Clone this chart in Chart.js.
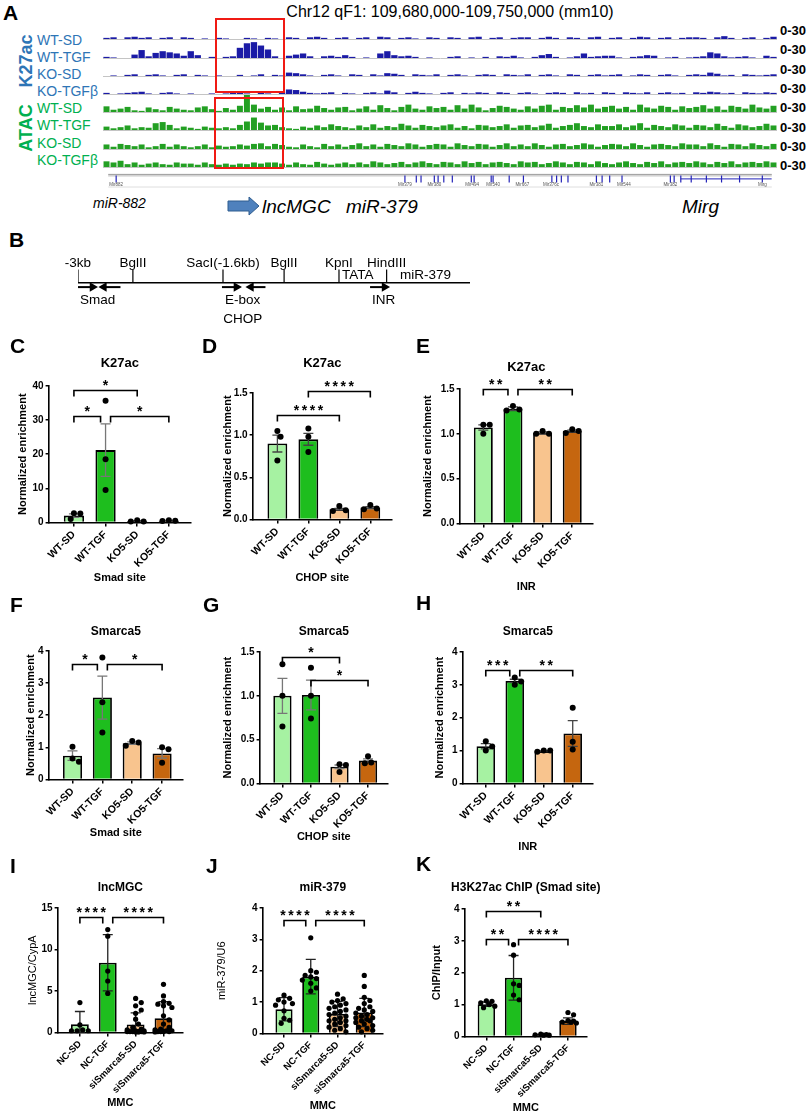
<!DOCTYPE html>
<html>
<head>
<meta charset="utf-8">
<title>Smarca5 / lncMGC figure</title>
<script src="https://cdn.jsdelivr.net/npm/chart.js@4.4.1/dist/chart.umd.min.js"></script>
<style>
  body { margin: 0; width: 809px; height: 1116px; position: relative; overflow: hidden; background: #fff;
         font-family: "Liberation Sans", Arial, sans-serif; color: #000; }
  canvas { position: absolute; }
  .t { position: absolute; white-space: nowrap; line-height: 1; transform: translate(-50%, -50%); }
  .tl { position: absolute; white-space: nowrap; line-height: 1; transform: translate(0, -50%); }
  .letter { position: absolute; font-weight: bold; font-size: 21px; line-height: 1; }
  .box { position: absolute; border: 2.5px solid #f01a14; box-sizing: border-box; }
</style>
</head>
<body>
<script>
// ---------- panel A: coverage tracks (96 bins over chr12:109,680,000-109,750,000) ----------
const k27WtSd  = [2,3,0,3,4,2,3,0,2,3,0,3, 2,0,1,0,2,1,0,0,2,1,0,2, 1,0,3,2,0,3,4,2,0,2,3,0, 2,3,0,4,3,0,2,3,1,0,3,2, 0,3,2,0,3,4,0,2,3,0,2,3, 3,0,2,4,2,0,3,2,0,3,4,0, 2,3,0,2,4,3,0,2,3,0,2,3, 3,2,0,3,5,2,0,2,3,0,2,4];
const k27WtTgf = [2,1,0,0,6,14,3,9,12,10,8,4, 12,5,0,2,0,2,3,18,26,28,22,15, 3,0,4,6,8,3,0,3,4,2,5,2, 0,1,0,8,12,5,3,4,2,0,1,0, 0,2,3,0,1,0,2,0,3,2,4,1, 0,2,5,7,2,0,1,3,8,2,3,4, 4,1,0,2,3,5,4,0,1,2,0,1, 2,3,10,8,3,1,2,3,1,0,4,2];
const k27KoSd  = [0,1,0,2,3,0,2,3,1,0,2,3, 0,2,1,0,1,0,0,2,0,1,3,0, 2,1,6,5,3,1,0,2,3,1,0,3, 2,0,3,1,5,4,2,0,3,2,1,3, 0,2,3,1,0,2,3,2,0,3,2,1, 3,0,2,3,1,0,3,2,0,2,3,1, 2,3,0,1,3,2,0,2,3,1,0,2, 3,2,6,4,1,2,0,3,2,1,2,3];
const k27KoTgf = [2,0,1,2,3,4,1,0,2,3,1,0, 1,0,0,1,0,1,2,3,1,0,2,1, 0,3,8,7,4,2,1,2,3,0,2,1, 0,2,3,1,6,3,0,2,4,2,1,0, 2,3,0,2,1,3,2,0,3,2,0,2, 3,1,0,2,3,2,0,3,1,2,0,3, 2,0,3,2,1,3,0,2,3,1,2,0, 3,2,4,3,1,2,0,3,2,1,3,2];
const atacWtSd  = [10,4,6,9,3,2,8,5,3,9,6,4, 3,8,10,5,2,7,4,11,30,13,6,9, 4,8,3,10,5,6,11,7,4,8,9,3, 6,10,4,12,7,3,9,13,6,4,10,7, 9,4,12,6,13,8,3,7,11,9,6,4, 10,6,11,13,4,9,7,12,8,13,6,9, 11,6,9,4,13,8,6,11,9,4,10,7, 9,12,6,10,4,11,9,6,13,8,6,11];
const atacWtTgf = [6,3,5,8,3,5,4,12,14,9,3,6, 4,2,6,4,3,5,3,9,15,22,13,8, 9,5,3,2,6,4,8,5,10,7,5,3, 8,5,10,4,7,5,11,8,4,9,7,5, 8,10,4,7,3,9,8,5,7,10,4,8, 9,5,8,11,4,7,9,12,7,5,10,7, 7,10,5,8,12,4,9,7,5,10,8,4, 9,8,5,11,7,4,10,8,5,7,11,8];
const atacKoSd  = [8,4,9,7,5,8,3,5,9,4,8,5, 3,5,8,3,6,4,5,8,6,9,10,5, 9,7,4,3,8,5,3,9,5,8,4,7, 10,5,8,4,9,7,5,10,8,4,7,9, 8,4,10,7,5,9,8,4,7,10,5,8, 5,10,7,4,8,9,5,7,10,8,4,7, 9,8,5,10,7,4,8,9,7,5,10,8, 8,5,10,7,4,9,8,5,10,7,5,9];
const atacKoTgf = [10,8,11,5,8,4,6,8,5,4,8,6, 6,4,8,5,4,6,4,6,5,8,6,8, 8,6,4,8,5,4,9,6,4,6,8,5, 8,5,10,8,5,7,9,5,8,10,7,5, 9,8,5,10,7,9,5,8,9,7,5,10, 8,9,5,7,10,8,5,9,8,5,10,7, 5,8,10,7,5,9,7,10,5,8,9,7, 10,8,5,9,7,10,5,8,9,7,10,8];
const trackNames = ['WT-SD', 'WT-TGF', 'KO-SD', 'KO-TGFβ', 'WT-SD', 'WT-TGF', 'KO-SD', 'KO-TGFβ'];
const trackRange = '0-30';

// gene annotation (kb from 109,680,000)
const featureKb = [0.84, 31.3, 32.5, 33.0, 34.4, 34.8, 35.4, 36.3, 38.3, 38.6, 40.4, 40.6, 42.3, 43.8, 46.8, 47.3, 47.8, 48.5,
                   51.5, 52.1, 52.9, 54.2, 59.3, 59.7, 60.4, 61.5, 63.1, 64.7, 66.6, 69.0];
const featureNames = ['Mir882', 'Mir379', 'Mir380', 'Mir494', 'Mir540', 'Mir667', 'Mir376c', 'Mir381', 'Mir544', 'Mir382', 'Mirg'];
const featureNameKb = [0.84, 31.3, 34.4, 38.4, 40.6, 43.7, 46.7, 51.5, 54.4, 59.3, 69.0];
const mirgSpanKb = [60.4, 70];
const highlightKb = [[11.3, 18.7], [11.2, 18.5]];

// ---------- panel B: promoter map (kb) ----------
const siteKb = [-3, -2.47, -1.6, -1.01, -0.48, -0.02];
const siteNames = ['-3kb', 'BglII', 'SacI(-1.6kb)', 'BglII', 'KpnI', 'HindIII'];
const elementKb = [-0.45, 0.11];
const elementNames = ['TATA', 'miR-379'];
const primerTail = [-3.0, -2.59, -1.61, -1.19, -0.18];
const primerTip = [-2.86, -2.75, -1.47, -1.33, -0.04];
const primerLabelKb = [-2.81, -1.41, -0.05];
const primerLabels = [['Smad'], ['E-box', 'CHOP'], ['INR']];
const mapEndKb = 0.785;

// ---------- panels C-K ----------
const chipGroups = ['WT-SD', 'WT-TGF', 'KO5-SD', 'KO5-TGF'];
const mmcGroups = ['NC-SD', 'NC-TGF', 'siSmarca5-SD', 'siSmarca5-TGF'];

const cMean = [2.0, 21.2, 0.4, 0.5];
const cErr = [0.5, 7.7, 0.1, 0.1];
const cPts = [[2.7, 2.6, 1.0], [35.7, 18.5, 9.5], [0.3, 0.6, 0.3], [0.6, 0.5, 0.4]];
const cSig = [[0, 2, 38.8, '*'], [0, 1, 31.2, '*'], [1, 3, 31.2, '*']];

const dMean = [0.9, 0.95, 0.12, 0.14];
const dErr = [0.1, 0.07, 0.01, 0.01];
const dPts = [[1.05, 0.98, 0.7], [1.08, 0.98, 0.8], [0.16, 0.11, 0.1], [0.17, 0.13, 0.12]];
const dSig = [[0, 2, 1.24, '****'], [1, 3, 1.52, '****']];

const eMean = [1.07, 1.28, 1.01, 1.03];
const eErr = [0.03, 0.02, 0.01, 0.01];
const ePts = [[1.1, 1.1, 1.0], [1.31, 1.26, 1.27], [1.03, 1.0, 1.0], [1.05, 1.01, 1.03]];
const eSig = [[0, 1, 1.5, '**'], [1, 3, 1.5, '**']];

const fMean = [0.74, 2.55, 1.13, 0.81];
const fErr = [0.15, 0.67, 0.04, 0.15];
const fPts = [[1.02, 0.65, 0.55], [3.8, 2.4, 1.46], [1.2, 1.15, 1.05], [1.0, 0.94, 0.52]];
const fSig = [[0, 1, 3.6, '*'], [1, 3, 3.6, '*']];

const gMean = [1.0, 1.01, 0.19, 0.26];
const gErr = [0.2, 0.17, 0.02, 0.02];
const gPts = [[1.36, 1.0, 0.65], [1.32, 1.0, 0.74], [0.22, 0.21, 0.13], [0.31, 0.23, 0.24]];
const gSig = [[0, 2, 1.44, '*'], [1, 3, 1.18, '*']];

const hMean = [1.13, 3.12, 0.98, 1.52];
const hErr = [0.08, 0.05, 0.01, 0.39];
const hPts = [[1.28, 1.0, 1.12], [3.22, 3.1, 3.0], [1.0, 1.0, 0.96], [2.3, 1.27, 1.03]];
const hSig = [[0, 1, 3.45, '***'], [1, 3, 3.45, '**']];

const iMean = [0.97, 8.4, 0.95, 1.7];
const iErr = [1.55, 3.4, 1.4, 2.0];
const iPts = [[3.6, 0.9, 0.3, 0.2, 0.2, 0.2], [12.4, 11.6, 7.4, 6.2, 4.7],
  [4.1, 3.6, 3.2, 2.7, 2.3, 1.6, 1.0, 0.6, 0.4, 0.3, 0.2, 0.2, 0.1, 0.1, 0.1, 0.1, 0.1, 0.05, 0.05, 0.05],
  [5.8, 4.4, 3.7, 3.5, 3.4, 3.2, 3.0, 2.0, 1.5, 1.0, 0.6, 0.4, 0.3, 0.2, 0.2, 0.1, 0.1, 0.1, 0.1, 0.05]];
const iSig = [[0, 1, 13.9, '****'], [1, 3, 13.9, '****']];

const jMean = [0.77, 1.81, 0.62, 0.67];
const jErr = [0.37, 0.55, 0.4, 0.45];
const jPts = [[1.22, 1.12, 1.07, 1.0, 0.95, 0.9, 0.72, 0.48, 0.42, 0.32],
  [3.05, 2.0, 1.95, 1.85, 1.8, 1.75, 1.7, 1.6, 1.45, 1.35],
  [1.25, 1.1, 1.05, 1.0, 0.95, 0.9, 0.85, 0.8, 0.75, 0.7, 0.65, 0.6, 0.55, 0.5, 0.45, 0.4, 0.35, 0.3, 0.25, 0.2, 0.15, 0.1, 0.05, 0.4],
  [1.85, 1.5, 1.15, 1.05, 0.95, 0.85, 0.8, 0.75, 0.7, 0.65, 0.6, 0.55, 0.5, 0.5, 0.45, 0.4, 0.4, 0.35, 0.3, 0.25, 0.2, 0.15, 0.1, 0.05]];
const jSig = [[0, 1, 3.63, '****'], [1, 3, 3.63, '****']];

const kMean = [1.01, 1.84, 0.05, 0.48];
const kErr = [0.07, 0.7, 0.01, 0.1];
const kPts = [[1.12, 1.1, 1.05, 1.0, 0.95, 0.9], [2.88, 2.55, 1.65, 1.6, 1.3, 1.15],
  [0.07, 0.06, 0.05, 0.04, 0.04], [0.75, 0.68, 0.5, 0.48, 0.45, 0.45, 0.42]];
const kSig = [[0, 2, 3.93, '**'], [0, 1, 3.05, '**'], [1, 3, 3.05, '****']];

// ---------- helpers ----------
const FONT = '"Liberation Sans", Arial, sans-serif';
const barFill = ['#a6f2a2', '#1ebe1e', '#f8c48e', '#c5660f'];
const X_MIN = -0.8, X_MAX = 3.7;
Chart.defaults.font.family = FONT;
Chart.defaults.color = '#000';

function addCanvas(l, t, w, h) {
  const c = document.createElement('canvas');
  c.width = Math.round(w); c.height = Math.round(h);
  c.style.left = Math.round(l) + 'px'; c.style.top = Math.round(t) + 'px';
  document.body.appendChild(c);
  return c.getContext('2d');
}
function addText(cls, txt, l, t, css) {
  const d = document.createElement('div');
  d.className = cls; d.textContent = txt;
  d.style.left = l + 'px'; d.style.top = t + 'px';
  if (css) d.style.cssText += css;
  document.body.appendChild(d);
  return d;
}
const baseOpts = () => ({ responsive: false, animation: false, events: [],
  plugins: { legend: { display: false }, tooltip: { enabled: false } } });

// spread overlapping dots sideways (pixel space), returns x offsets in axis units
function swarm(vals, yMax, areaH, unitPx, r, maxOff) {
  const d = 2 * r + 0.4, placed = [], out = new Array(vals.length);
  const order = vals.map((v, i) => i).sort((a, b) => vals[b] - vals[a]);
  order.forEach(i => {
    const py = vals[i] / yMax * areaH;
    let best = 0, bestDist = -1;
    for (let k = 0; k <= 16 && bestDist < d; k++) {
      const cands = k === 0 ? [0] : [k * d * 0.5, -k * d * 0.5];
      for (const ox of cands) {
        if (Math.abs(ox) > maxOff) continue;
        let m = Infinity;
        placed.forEach(q => { m = Math.min(m, Math.hypot(q.ox - ox, q.py - py)); });
        if (m > bestDist) { bestDist = m; best = ox; }
        if (m >= d) break;
      }
    }
    placed.push({ ox: best, py });
    out[i] = best / unitPx;
  });
  return out;
}

function errorBars(means, errs, color) {
  return { id: 'errbars', afterDatasetDraw(chart, args) {
    if (args.meta.type !== 'bar') return;
    const { ctx, scales: { x, y } } = chart;
    ctx.save(); ctx.strokeStyle = color; ctx.lineWidth = 1.3;
    means.forEach((m, i) => {
      const px = x.getPixelForValue(i);
      const yt = y.getPixelForValue(m + errs[i]), yb = y.getPixelForValue(Math.max(0, m - errs[i]));
      ctx.beginPath();
      ctx.moveTo(px, yt); ctx.lineTo(px, yb);
      ctx.moveTo(px - 5, yt); ctx.lineTo(px + 5, yt);
      ctx.moveTo(px - 5, yb); ctx.lineTo(px + 5, yb);
      ctx.stroke();
    });
    ctx.restore();
  }};
}

function sigBrackets(list) {
  return { id: 'sig', afterDraw(chart) {
    const { ctx, scales: { x, y } } = chart;
    ctx.save(); ctx.strokeStyle = '#000'; ctx.fillStyle = '#000'; ctx.lineWidth = 1.6;
    ctx.font = 'bold 14px ' + FONT; ctx.textAlign = 'center'; ctx.textBaseline = 'alphabetic';
    list.forEach(([a, b, lvl, lab]) => {
      let x1 = x.getPixelForValue(a), x2 = x.getPixelForValue(b);
      if (list.some(o => o[2] === lvl && o[1] === a)) x1 += 5;
      if (list.some(o => o[2] === lvl && o[0] === b)) x2 -= 5;
      const yy = Math.round(y.getPixelForValue(lvl)) + 0.5;
      ctx.beginPath(); ctx.moveTo(x1, yy + 6); ctx.lineTo(x1, yy); ctx.lineTo(x2, yy); ctx.lineTo(x2, yy + 6); ctx.stroke();
      const cx = (x1 + x2) / 2;
      for (let k = 0; k < lab.length; k++) ctx.fillText('*', cx + (k - (lab.length - 1) / 2) * 8, yy - 0.5);
    });
    ctx.restore();
  }};
}

// panel title centred over the plot area
function panelTitle(text, size, yPx) {
  return { id: 'ptitle', afterDraw(chart) {
    const { ctx, chartArea: a } = chart;
    ctx.save(); ctx.fillStyle = '#000'; ctx.font = 'bold ' + size + 'px ' + FONT;
    ctx.textAlign = 'center'; ctx.textBaseline = 'middle';
    ctx.fillText(text, (a.left + a.right) / 2, yPx);
    ctx.restore();
  }};
}

function barPanel(p) {
  const [al, at, ar, ab] = p.area;
  const yAxisW = al - p.yTitleX + 10.6;
  const left = al - yAxisW, top = p.titleY - 10, rightPad = 26;
  const width = ar + rightPad - left, height = p.xTitleY + 10.6 - top;
  const xAxisH = p.xTitleY + 10.6 - ab;
  const unitPx = (ar - al) / (X_MAX - X_MIN);
  const dots = [];
  p.pts.forEach((grp, i) => {
    const offs = swarm(grp, p.yMax, ab - at, unitPx, p.r, unitPx * 0.36);
    grp.forEach((v, k) => dots.push({ x: i + offs[k], y: v }));
  });
  const xLine = { display: true, drawOnChartArea: false, drawTicks: true, tickLength: 4, color: '#000', lineWidth: 1.5, offset: false };
  const yLine = Object.assign({}, xLine, { tickLength: 3 });
  const opts = baseOpts();
  opts.layout = { padding: { left: 0, right: rightPad, top: at - top, bottom: 0 } };
  opts.scales = {
    x: { type: 'linear', min: X_MIN, max: X_MAX, offset: false,
      afterBuildTicks: a => { a.ticks = p.groups.map((g, i) => ({ value: i })); },
      afterFit: a => { a.height = xAxisH; a.paddingLeft = 0; a.paddingRight = 0; },
      ticks: { callback: v => p.groups[v], minRotation: 45, maxRotation: 45, autoSkip: false, color: '#000',
        font: { family: FONT, size: p.xTickSize, weight: 'bold' }, padding: 2 },
      grid: xLine, border: { display: true, color: '#000', width: 1.6 },
      title: { display: true, text: p.xTitle, color: '#000', font: { family: FONT, size: 11, weight: 'bold' },
        padding: { top: 0, bottom: 4 } } },
    y: { min: 0, max: p.yMax,
      afterFit: a => { a.width = yAxisW; a.paddingTop = 0; a.paddingBottom = 0; },
      ticks: { stepSize: p.yStep, callback: v => v.toFixed(p.dec), color: '#000',
        font: { family: FONT, size: 10, weight: 'bold' }, padding: 2 },
      grid: yLine, border: { display: true, color: '#000', width: 1.6 },
      title: { display: true, text: p.yTitle, color: '#000', font: { family: FONT, size: 11, weight: p.yTitleWeight },
        padding: { top: 4, bottom: 0 } } }
  };
  new Chart(addCanvas(left, top, width, height), {
    type: 'bar',
    data: { datasets: [
      { type: 'scatter', data: dots, order: 0, clip: false, pointRadius: p.r, pointHoverRadius: p.r,
        pointBackgroundColor: '#000', pointBorderWidth: 0 },
      { type: 'bar', data: p.means.map((m, i) => ({ x: i, y: m })), order: 1, backgroundColor: barFill,
        borderColor: '#000', borderWidth: 1.8, barPercentage: 0.64, categoryPercentage: 1 }
    ]},
    options: opts,
    plugins: [errorBars(p.means, p.errs, p.errColor), sigBrackets(p.sig), panelTitle(p.title, p.titleSize, p.titleY - top)]
  });
  addText('letter', p.letter, p.letterPos[0], p.letterPos[1]);
}

// ---------- panel A ----------
addText('letter', 'A', 3, 2);
addText('t', 'Chr12 qF1: 109,680,000-109,750,000 (mm10)', 450, 12, 'font-size:16px');
addText('t', 'K27ac', 26, 61, 'font-size:18px;font-weight:bold;color:#2e75b6;transform:translate(-50%,-50%) rotate(-90deg)');
addText('t', 'ATAC', 26, 128, 'font-size:18px;font-weight:bold;color:#00b050;transform:translate(-50%,-50%) rotate(-90deg)');

const trackData = [k27WtSd, k27WtTgf, k27KoSd, k27KoTgf, atacWtSd, atacWtTgf, atacKoSd, atacKoTgf];
trackData.forEach((vals, k) => {
  const base = 39.3 + 18.2 * k;
  const k27 = k < 4;
  const opts = baseOpts();
  opts.layout = { padding: { bottom: 1 } };
  opts.scales = {
    x: { display: true, grid: { display: false, drawTicks: false }, ticks: { display: false },
      border: { display: true, color: '#c4c4c4', width: 1 } },
    y: { display: false, min: 0, max: 30 }
  };
  new Chart(addCanvas(103, base - 17, 674, 18), {
    type: 'bar',
    data: { labels: vals.map((v, i) => String(i)),
      datasets: [{ data: vals, backgroundColor: k27 ? '#1b1ba6' : '#23a023',
        barPercentage: k27 ? 0.9 : 0.85, categoryPercentage: 1 }] },
    options: opts
  });
  addText('tl', trackNames[k], 37, [40, 57, 74, 91, 108, 125, 143, 160][k],
    'font-size:14px;color:' + (k27 ? '#2e75b6' : '#00b050'));
  addText('tl', trackRange, 780, 30 + 19.3 * k, 'font-size:13px;font-weight:bold');
});

const geneDeco = { id: 'geneDeco',
  beforeDatasetsDraw(chart) {
    const { ctx, chartArea: a, scales: { y } } = chart;
    ctx.save();
    [[24, '#9a9a9a'], [21.5, '#b8b8b8'], [3, '#dedede']].forEach(([v, c]) => {
      ctx.strokeStyle = c; ctx.lineWidth = 1;
      ctx.beginPath(); ctx.moveTo(a.left, y.getPixelForValue(v)); ctx.lineTo(a.right, y.getPixelForValue(v)); ctx.stroke();
    });
    ctx.restore();
  },
  afterDraw(chart) {
    const { ctx, scales: { x, y } } = chart;
    ctx.save(); ctx.fillStyle = '#555'; ctx.font = '4.5px ' + FONT; ctx.textAlign = 'center'; ctx.textBaseline = 'middle';
    featureNames.forEach((n, i) => ctx.fillText(n, x.getPixelForValue(featureNameKb[i]), y.getPixelForValue(7)));
    ctx.restore();
  }
};
const geneOpts = baseOpts();
geneOpts.layout = { padding: 0 };
geneOpts.scales = { x: { type: 'linear', min: 0, max: 70, display: false }, y: { min: 0, max: 26, display: false } };
const geneChart = new Chart(addCanvas(103, 168, 674, 26), {
  type: 'scatter',
  data: { datasets: [
    { data: featureKb.map(v => ({ x: v, y: 16.5 })), pointStyle: 'line', pointRotation: 90, pointRadius: 3.5,
      borderColor: '#2323b8', borderWidth: 1.2 },
    { type: 'line', data: mirgSpanKb.map(v => ({ x: v, y: 16.5 })), borderColor: '#2323b8', borderWidth: 1, pointRadius: 0 }
  ]},
  options: geneOpts,
  plugins: [geneDeco]
});
const gx = geneChart.scales.x;
[[18, 93], [97, 169]].forEach(([t, b], i) => {
  const d = document.createElement('div');
  d.className = 'box';
  const l = 103 + gx.getPixelForValue(highlightKb[i][0]), r = 103 + gx.getPixelForValue(highlightKb[i][1]);
  d.style.left = l + 'px'; d.style.top = t + 'px'; d.style.width = (r - l) + 'px'; d.style.height = (b - t) + 'px';
  document.body.appendChild(d);
});

addText('tl', 'miR-882', 93, 203, 'font-size:14px;font-style:italic');
addText('tl', 'lncMGC', 262, 206, 'font-size:19px;font-style:italic');
addText('tl', 'miR-379', 346, 206, 'font-size:19px;font-style:italic');
addText('tl', 'Mirg', 682, 206, 'font-size:19px;font-style:italic');
const arrowSvg = document.createElementNS('http://www.w3.org/2000/svg', 'svg');
arrowSvg.setAttribute('width', '34'); arrowSvg.setAttribute('height', '20');
arrowSvg.style.cssText = 'position:absolute;left:227px;top:196px';
arrowSvg.innerHTML = '<polygon points="1,5 22,5 22,1 32,10 22,19 22,15 1,15" fill="#4f81bd" stroke="#2f5d8f" stroke-width="1"/>';
document.body.appendChild(arrowSvg);

// ---------- panel B ----------
addText('letter', 'B', 9, 229);
const schemeText = { id: 'schemeText', afterDraw(chart) {
  const { ctx, scales: { x, y } } = chart;
  ctx.save(); ctx.fillStyle = '#000'; ctx.font = '13.5px ' + FONT; ctx.textBaseline = 'middle';
  ctx.textAlign = 'center';
  siteKb.forEach((s, i) => ctx.fillText(siteNames[i], x.getPixelForValue(s), y.getPixelForValue(21.7)));
  ctx.textAlign = 'left';
  elementKb.forEach((s, i) => ctx.fillText(elementNames[i], x.getPixelForValue(s), y.getPixelForValue(8.7)));
  ctx.textAlign = 'center';
  primerLabelKb.forEach((s, i) => primerLabels[i].forEach((t, r) =>
    ctx.fillText(t, x.getPixelForValue(s), y.getPixelForValue(-20 - 21.3 * r))));
  ctx.restore();
}};
const schemeSets = [
  { data: [{ x: siteKb[0], y: 0 }, { x: mapEndKb, y: 0 }], borderColor: '#000', borderWidth: 1.4, pointRadius: 0 }
];
siteKb.forEach(s => schemeSets.push({ data: [{ x: s, y: 0 }, { x: s, y: 15 }], borderColor: '#000', borderWidth: 1.2, pointRadius: 0 }));
primerTail.forEach((t, i) => schemeSets.push({
  data: [{ x: t, y: -5 }, { x: primerTip[i], y: -5 }], borderColor: '#000', borderWidth: 2,
  pointRadius: [0, 5.5], pointStyle: 'triangle', pointRotation: primerTip[i] > t ? 90 : -90,
  pointBackgroundColor: '#000', pointBorderWidth: 0, clip: false }));
const schemeOpts = baseOpts();
schemeOpts.layout = { padding: { left: 18, right: 10, top: 0, bottom: 0 } };
schemeOpts.scales = { x: { type: 'linear', min: siteKb[0], max: mapEndKb, display: false },
  y: { min: -53.3, max: 36.7, display: false } };
new Chart(addCanvas(60, 245, 420, 90), { type: 'line', data: { datasets: schemeSets }, options: schemeOpts, plugins: [schemeText] });

// ---------- panels C-K ----------
const panelList = [
  { letter: 'C', letterPos: [10, 335], groups: chipGroups, means: cMean, errs: cErr, pts: cPts, sig: cSig, yMax: 40, yStep: 10, dec: 0,
    title: 'K27ac', titleSize: 13, yTitle: 'Normalized enrichment', xTitle: 'Smad site', yTitleWeight: 'bold', r: 3, errColor: '#777',
    xTickSize: 10.5, area: [49, 386, 191, 522], titleY: 363, yTitleX: 23, xTitleY: 578 },
  { letter: 'D', letterPos: [202, 335], groups: chipGroups, means: dMean, errs: dErr, pts: dPts, sig: dSig, yMax: 1.5, yStep: 0.5, dec: 1,
    title: 'K27ac', titleSize: 13, yTitle: 'Normalized enrichment', xTitle: 'CHOP site', yTitleWeight: 'bold', r: 3, errColor: '#444',
    xTickSize: 10.5, area: [253, 393, 392, 519], titleY: 363, yTitleX: 228, xTitleY: 578 },
  { letter: 'E', letterPos: [416, 335], groups: chipGroups, means: eMean, errs: eErr, pts: ePts, sig: eSig, yMax: 1.5, yStep: 0.5, dec: 1,
    title: 'K27ac', titleSize: 13, yTitle: 'Normalized enrichment', xTitle: 'INR', yTitleWeight: 'bold', r: 3, errColor: '#444',
    xTickSize: 10.5, area: [460, 389, 593, 523], titleY: 367, yTitleX: 428, xTitleY: 587 },
  { letter: 'F', letterPos: [10, 594], groups: chipGroups, means: fMean, errs: fErr, pts: fPts, sig: fSig, yMax: 4, yStep: 1, dec: 0,
    title: 'Smarca5', titleSize: 12, yTitle: 'Normalized enrichment', xTitle: 'Smad site', yTitleWeight: 'bold', r: 3, errColor: '#777',
    xTickSize: 10.5, area: [49, 651, 183, 779], titleY: 632, yTitleX: 31, xTitleY: 833 },
  { letter: 'G', letterPos: [203, 594], groups: chipGroups, means: gMean, errs: gErr, pts: gPts, sig: gSig, yMax: 1.5, yStep: 0.5, dec: 1,
    title: 'Smarca5', titleSize: 12, yTitle: 'Normalized enrichment', xTitle: 'CHOP site', yTitleWeight: 'bold', r: 3, errColor: '#777',
    xTickSize: 10.5, area: [260, 652, 388, 783], titleY: 632, yTitleX: 228, xTitleY: 837 },
  { letter: 'H', letterPos: [416, 592], groups: chipGroups, means: hMean, errs: hErr, pts: hPts, sig: hSig, yMax: 4, yStep: 1, dec: 0,
    title: 'Smarca5', titleSize: 12, yTitle: 'Normalized enrichment', xTitle: 'INR', yTitleWeight: 'bold', r: 3, errColor: '#444',
    xTickSize: 10.5, area: [463, 652, 593, 783], titleY: 632, yTitleX: 440, xTitleY: 847 },
  { letter: 'I', letterPos: [10, 855], groups: mmcGroups, means: iMean, errs: iErr, pts: iPts, sig: iSig, yMax: 15, yStep: 5, dec: 0,
    title: 'lncMGC', titleSize: 12, yTitle: 'lncMGC/CypA', xTitle: 'MMC', yTitleWeight: 'normal', r: 2.6, errColor: '#222',
    xTickSize: 9.5, area: [58, 908, 183, 1032], titleY: 888, yTitleX: 33, xTitleY: 1103 },
  { letter: 'J', letterPos: [206, 855], groups: mmcGroups, means: jMean, errs: jErr, pts: jPts, sig: jSig, yMax: 4, yStep: 1, dec: 0,
    title: 'miR-379', titleSize: 12, yTitle: 'miR-379/U6', xTitle: 'MMC', yTitleWeight: 'normal', r: 2.6, errColor: '#222',
    xTickSize: 9.5, area: [263, 908, 383, 1033], titleY: 888, yTitleX: 222, xTitleY: 1106 },
  { letter: 'K', letterPos: [416, 853], groups: mmcGroups, means: kMean, errs: kErr, pts: kPts, sig: kSig, yMax: 4, yStep: 1, dec: 0,
    title: 'H3K27ac ChIP (Smad site)', titleSize: 12, yTitle: 'ChIP/Input', xTitle: 'MMC', yTitleWeight: 'bold', r: 2.6, errColor: '#222',
    xTickSize: 9.5, area: [465, 909, 587, 1036], titleY: 888, yTitleX: 437, xTitleY: 1108 }
];
panelList.forEach(barPanel);
</script>
</body>
</html>
